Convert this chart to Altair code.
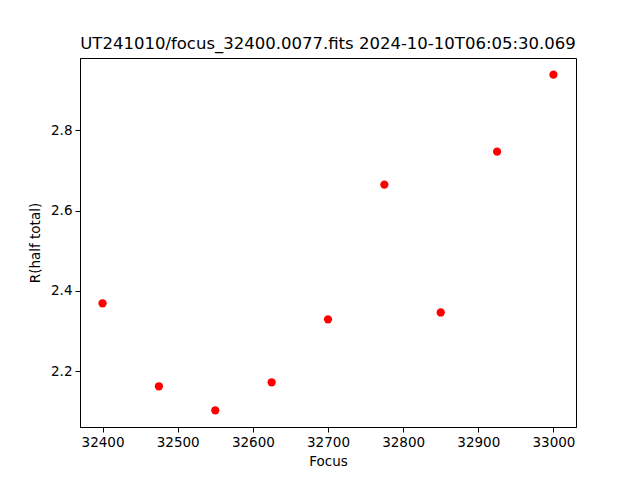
import altair as alt
import pandas as pd

focus = [32400, 32475, 32550, 32625, 32700, 32775, 32850, 32925, 33000]
r_half = [2.369, 2.162, 2.102, 2.172, 2.329, 2.665, 2.346, 2.747, 2.939]
x_ticks = [32400, 32500, 32600, 32700, 32800, 32900, 33000]
y_ticks = [2.2, 2.4, 2.6, 2.8]
title = "UT241010/focus_32400.0077.fits 2024-10-10T06:05:30.069"

df = pd.DataFrame({"Focus": focus, "R": r_half})

font = "DejaVu Sans"

chart = alt.Chart(df).mark_circle(size=68, color="#ff0000", opacity=1).encode(
    x=alt.X("Focus:Q", scale=alt.Scale(domain=[32370, 33030], nice=False, zero=False),
            axis=alt.Axis(values=x_ticks, title="Focus", format="d", grid=False,
                          tickSize=5, tickColor="black", domainColor="black",
                          labelFont=font, labelFontSize=13.5, labelColor="black",
                          titleFont=font, titleFontSize=13.5, titleFontWeight="normal",
                          titleColor="black", labelPadding=3, titlePadding=6)),
    y=alt.Y("R:Q", scale=alt.Scale(domain=[2.0605, 2.9805], nice=False, zero=False),
            axis=alt.Axis(values=y_ticks, title="R(half total)", format=".1f", grid=False,
                          tickSize=5, tickColor="black", domainColor="black",
                          labelFont=font, labelFontSize=13.5, labelColor="black",
                          titleFont=font, titleFontSize=13.5, titleFontWeight="normal",
                          titleColor="black", labelPadding=3, titlePadding=8)),
).properties(
    width=496, height=369,
    title=alt.TitleParams(title, font=font, fontSize=16.5, fontWeight="normal",
                          color="black", anchor="middle", offset=6),
    autosize=alt.AutoSizeParams(type="none"),
    padding={"left": 72, "top": 50, "right": 56, "bottom": 45},
).configure_view(stroke="black", strokeWidth=1)

chart.save("out.html", embed_options={"renderer": "svg", "actions": False})
